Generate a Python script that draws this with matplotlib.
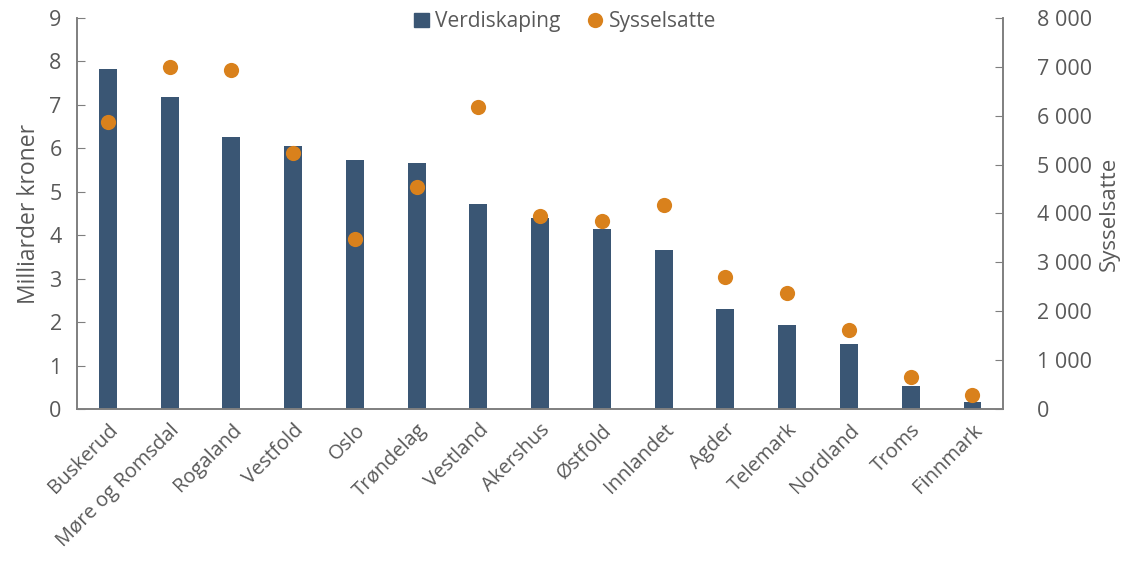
import matplotlib.pyplot as plt
from matplotlib.ticker import FuncFormatter, MultipleLocator
from matplotlib.lines import Line2D
from matplotlib.patches import Patch
import numpy as np

plt.rcParams['font.family'] = ['Open Sans', 'DejaVu Sans']

fylker = ["Buskerud", "Møre og Romsdal", "Rogaland", "Vestfold", "Oslo", "Trøndelag",
          "Vestland", "Akershus", "Østfold", "Innlandet", "Agder", "Telemark",
          "Nordland", "Troms", "Finnmark"]
verdiskaping = [7.83, 7.19, 6.26, 6.05, 5.72, 5.66, 4.72, 4.40, 4.15, 3.66,
                2.29, 1.93, 1.50, 0.53, 0.15]
sysselsatte = [5870, 6990, 6935, 5228, 3480, 4532, 6177, 3938, 3843, 4163,
               2697, 2369, 1617, 649, 280]

bar_color = "#3A5674"
dot_color = "#D9811C"
grey = "#7F7F7F"
text_color = "#595959"

fig = plt.figure(figsize=(11.27, 5.61), dpi=100)
ax = fig.add_axes([0.0683, 0.271, 0.822, 0.697])
ax2 = ax.twinx()

x = np.arange(len(fylker))
ax.bar(x, verdiskaping, width=0.29, color=bar_color, zorder=2)
ax2.scatter(x, sysselsatte, s=120, color=dot_color, zorder=3, linewidths=0)

ax.set_xlim(-0.5, len(fylker) - 0.5)
ax.set_ylim(0, 9)
ax2.set_ylim(0, 8000)
ax.yaxis.set_major_locator(MultipleLocator(1))
ax2.yaxis.set_major_locator(MultipleLocator(1000))
ax2.yaxis.set_major_formatter(FuncFormatter(lambda v, pos: "{:,.0f}".format(v).replace(",", " ")))

ax.set_xticks(x)
ax.set_xticklabels(fylker, rotation=45, ha="right", rotation_mode="anchor",
                   fontsize=14.5, color=text_color)

for a in (ax, ax2):
    a.spines["top"].set_visible(False)
    for s in ("left", "right", "bottom"):
        a.spines[s].set_color(grey)
        a.spines[s].set_linewidth(1.2)
    a.tick_params(axis="y", direction="in", length=6, color=grey, labelsize=15.5,
                  labelcolor=text_color)
ax.tick_params(axis="y", pad=11)
ax2.tick_params(axis="y", pad=24)
ax.tick_params(axis="x", length=0, pad=8)

ax.set_ylabel("Milliarder kroner", fontsize=16.5, color=text_color, labelpad=6)
ax2.set_ylabel("Sysselsatte", fontsize=16, color=text_color, labelpad=5)

handles = [Patch(color=bar_color, label="Verdiskaping"),
           Line2D([], [], marker="o", linestyle="", markersize=11, markerfacecolor=dot_color,
                  markeredgewidth=0, label="Sysselsatte")]
ax.legend(handles=handles, loc="upper center", bbox_to_anchor=(0.527, 1.065), ncol=2,
          frameon=False, fontsize=15, handlelength=0.7, handletextpad=0.3,
          columnspacing=1.3, labelcolor=text_color)

fig.savefig("out.png", dpi=100)
